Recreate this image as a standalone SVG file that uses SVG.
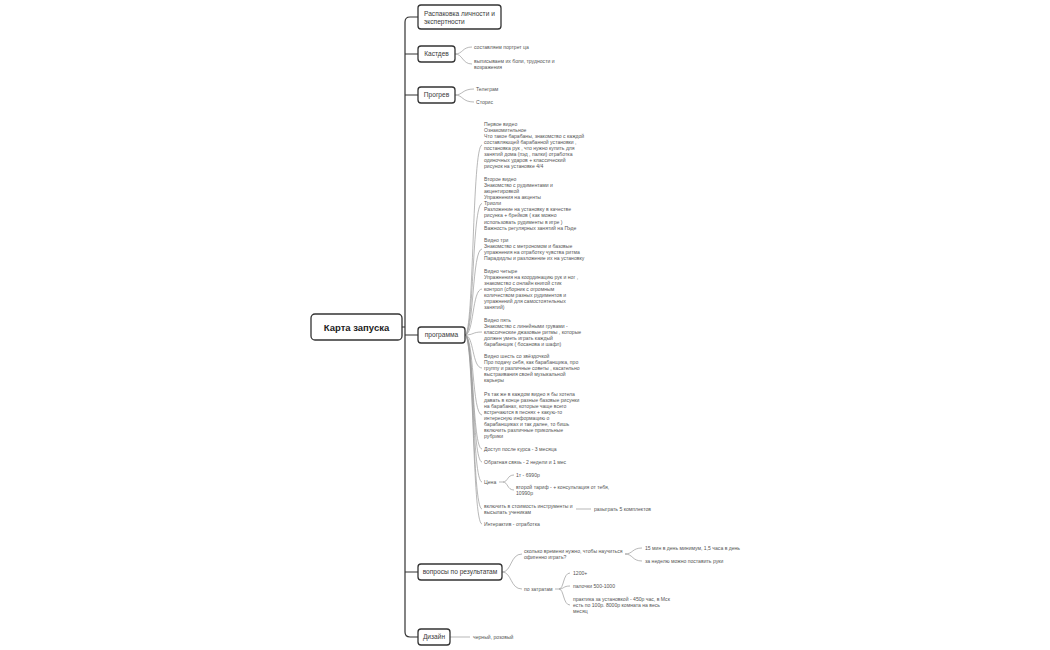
<svg xmlns="http://www.w3.org/2000/svg" width="1050" height="650" viewBox="0 0 1050 650">
<style>
.box{fill:#fff;stroke:#333;stroke-width:1.3}
.lbl{font-family:"Liberation Sans",Arial,sans-serif;font-size:6.6px;fill:#3a3a3a}
.root{font-family:"Liberation Sans",Arial,sans-serif;font-size:9.5px;font-weight:bold;fill:#222}
.t{font-family:"Liberation Sans",Arial,sans-serif;font-size:5.1px;fill:#555}
.trunk{fill:none;stroke:#333;stroke-width:1.2}
.c{fill:none;stroke:#9a9a9a;stroke-width:0.7}
</style>
<rect width="1050" height="650" fill="#fff"/>
<g id="connectors">
<path class="trunk" d="M402,327 H405 M418,17 H410 Q405,17 405,22 V632 Q405,637 410,637 H418 M405,54 H418 M405,95 H418 M405,335 H418 M405,572 H418"/>
<path class="c" d="M455,54 C463,54 462,47 472,47 M455,54 C463,54 462,64 472,64"/>
<path class="c" d="M455,95 C463,95 462,89 474,89 M455,95 C463,95 462,102 474,102"/>
<path class="c" d="M465,335 C474,335 472,145 482,145 M465,335 C474,335 472,203.5 482,203.5 M465,335 C474,335 472,249 482,249 M465,335 C474,335 472,289 482,289 M465,335 C474,335 472,332 482,332 M465,335 C474,335 472,368 482,368 M465,335 C474,335 472,415 482,415 M465,335 C474,335 472,449 482,449 M465,335 C474,335 472,462 482,462 M465,335 C474,335 472,482 482,482 M465,335 C474,335 472,509 482,509 M465,335 C474,335 472,524 482,524"/>
<path class="c" d="M499,482 H503 C508,482 507,475 514,475 M503,482 C508,482 507,490 514,490"/>
<path class="c" d="M576,509 H591"/>
<path class="c" d="M502,572 C512,572 510,554 522,554 M502,572 C512,572 510,589 522,589"/>
<path class="c" d="M625,554 C633,554 632,548 642,548 M625,554 C633,554 632,561 642,561"/>
<path class="c" d="M555,589 H559 C564,589 563,573 570,573 M559,589 C564,589 563,586 570,586 M559,589 C564,589 563,605 570,605"/>
<path class="c" d="M450,637 H470"/>
</g>
<g id="root">
<rect class="box" x="311" y="314" width="91" height="26" rx="4"/>
<text class="root" x="356.5" y="330.5" text-anchor="middle">Карта запуска</text>
</g>
<g id="n-raspakovka">
<rect class="box" x="418" y="5" width="83" height="24" rx="3"/>
<text class="lbl" x="424" y="16.3">Распаковка личности и</text>
<text class="lbl" x="424" y="23.8">экспертности</text>
</g>
<g id="n-castdev">
<rect class="box" x="418" y="46" width="37" height="16" rx="3"/>
<text class="lbl" x="436.5" y="56.3" text-anchor="middle">Кастдев</text>
<text class="t" x="474" y="48.8">составляем портрет ца</text>
<text class="t" x="474" y="62.8">выписываем их боли, трудности и<tspan x="474" dy="6">возражения</tspan></text>
</g>
<g id="n-progrev">
<rect class="box" x="418" y="87" width="37" height="16" rx="3"/>
<text class="lbl" x="436.5" y="97.3" text-anchor="middle">Прогрев</text>
<text class="t" x="476" y="90.8">Телеграм</text>
<text class="t" x="476" y="103.8">Сторис</text>
</g>
<g id="n-programma">
<rect class="box" x="418" y="327" width="47" height="16" rx="3"/>
<text class="lbl" x="441.5" y="337.3" text-anchor="middle">программа</text>
<text class="t" x="484" y="125.8">Первое видео<tspan x="484" dy="6">Ознакомительное</tspan><tspan x="484" dy="6">Что такое барабаны, знакомство с каждой</tspan><tspan x="484" dy="6">составляющей барабанной установки ,</tspan><tspan x="484" dy="6">постановка рук , что нужно купить для</tspan><tspan x="484" dy="6">занятий дома (пэд , палки) отработка</tspan><tspan x="484" dy="6">одиночных ударов + классический</tspan><tspan x="484" dy="6">рисунок на установке 4/4</tspan></text>
<text class="t" x="484" y="180.8">Второе видео<tspan x="484" dy="6.1">Знакомство с рудиментами и</tspan><tspan x="484" dy="6.1">акцентировкой</tspan><tspan x="484" dy="6.1">Упражнения на акценты</tspan><tspan x="484" dy="6.1">Триоли</tspan><tspan x="484" dy="6.1">Разложение на установку в качестве</tspan><tspan x="484" dy="6.1">рисунка + брейков ( как можно</tspan><tspan x="484" dy="6.1">использовать рудименты в игре )</tspan><tspan x="484" dy="6.1">Важность регулярных занятий на Пэде</tspan></text>
<text class="t" x="484" y="241.8">Видео три<tspan x="484" dy="6">Знакомство с метрономом и базовые</tspan><tspan x="484" dy="6">упражнения на отработку чувства ритма</tspan><tspan x="484" dy="6">Парадидлы и разложение их на установку</tspan></text>
<text class="t" x="484" y="272.8">Видео четыре<tspan x="484" dy="6">Упражнения на координацию рук и ног ,</tspan><tspan x="484" dy="6">знакомство с онлайн книгой стик</tspan><tspan x="484" dy="6">контрол (сборник с огромным</tspan><tspan x="484" dy="6">количеством разных рудиментов и</tspan><tspan x="484" dy="6">упражнений для самостоятельных</tspan><tspan x="484" dy="6">занятий)</tspan></text>
<text class="t" x="484" y="321.8">Видео пять<tspan x="484" dy="6">Знакомство с линейными грувами -</tspan><tspan x="484" dy="6">классические джазовые ритмы , которые</tspan><tspan x="484" dy="6">должен уметь играть каждый</tspan><tspan x="484" dy="6">барабанщик ( босанова и шафл)</tspan></text>
<text class="t" x="484" y="357.8">Видео шесть со звёздочкой<tspan x="484" dy="6">Про подачу себя, как барабанщика, про</tspan><tspan x="484" dy="6">группу и различные советы , касательно</tspan><tspan x="484" dy="6">выстраивания своей музыкальной</tspan><tspan x="484" dy="6">карьеры</tspan></text>
<text class="t" x="484" y="395.8">Ps так же в каждом видео я бы хотела<tspan x="484" dy="6">давать в конце разные базовые рисунки</tspan><tspan x="484" dy="6">на барабанах, которые чаще всего</tspan><tspan x="484" dy="6">встречаются в песнях + какую-то</tspan><tspan x="484" dy="6">интересную информацию о</tspan><tspan x="484" dy="6">барабанщиках и так далее, то бишь</tspan><tspan x="484" dy="6">включить различные прикольные</tspan><tspan x="484" dy="6">рубрики</tspan></text>
<text class="t" x="484" y="450.8">Доступ после курса - 3 месяца</text>
<text class="t" x="484" y="463.8">Обратная связь - 2 недели и 1 мес</text>
<text class="t" x="484" y="483.8">Цена</text>
<text class="t" x="516" y="476.8">1т - 6990р</text>
<text class="t" x="516" y="488.8">второй тариф - + консультация от тебя,<tspan x="516" dy="6">10990р</tspan></text>
<text class="t" x="484" y="507.8">включить в стоимость инструменты и<tspan x="484" dy="6">высылать ученикам</tspan></text>
<text class="t" x="594" y="510.8">разыграть 5 комплектов</text>
<text class="t" x="484" y="525.8">Интерактив - отработка</text>
</g>
<g id="n-voprosy">
<rect class="box" x="418" y="564" width="84" height="16" rx="3"/>
<text class="lbl" x="460" y="574.3" text-anchor="middle">вопросы по результатам</text>
<text class="t" x="524" y="552.8">сколько времени нужно, чтобы научиться<tspan x="524" dy="6">офигенно играть?</tspan></text>
<text class="t" x="645" y="549.8">15 мин в день минимум, 1,5 часа в день</text>
<text class="t" x="645" y="562.8">за неделю можно поставить руки</text>
<text class="t" x="524" y="590.8">по затратам</text>
<text class="t" x="573" y="574.8">1200+</text>
<text class="t" x="573" y="587.8">палочки 500-1000</text>
<text class="t" x="573" y="600.8">практика за установкой - 450р час, в Мск<tspan x="573" dy="6">есть по 100р. 8000р комната на весь</tspan><tspan x="573" dy="6">месяц</tspan></text>
</g>
<g id="n-dizain">
<rect class="box" x="418" y="629" width="32" height="16" rx="3"/>
<text class="lbl" x="434" y="639.3" text-anchor="middle">Дизайн</text>
<text class="t" x="473" y="638.8">черный, розовый</text>
</g>
</svg>
